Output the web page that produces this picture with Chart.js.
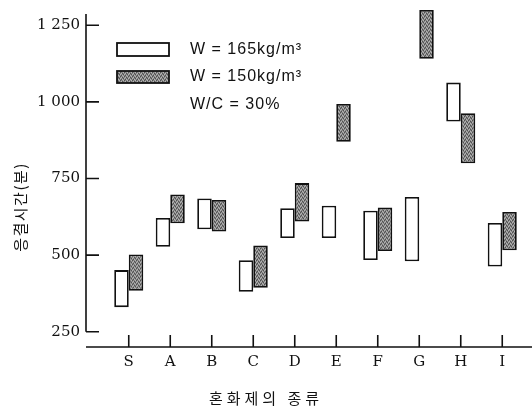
<!DOCTYPE html>
<html>
<head>
<meta charset="utf-8">
<script src="https://cdn.jsdelivr.net/npm/chart.js@4.4.0/dist/chart.umd.min.js"></script>
<style>
html, body { margin: 0; padding: 0; background: #fff; }
#chart { display: block; }
</style>
</head>
<body>
<canvas id="chart" width="532" height="406"></canvas>
<script>
// 혼화제 종류별 응결시간(분): 막대 하나 = [하한, 상한]
const categories = ['S', 'A', 'B', 'C', 'D', 'E', 'F', 'G', 'H', 'I'];
const w165Low  = [330, 527, 584, 380, 556, 556, 484, 480, 936, 463];
const w165High = [451, 621, 685, 483, 653, 661, 645, 690, 1063, 605];
const w150Low  = [384, 604, 577, 393, 610, 870, 513, 1141, 800, 516];
const w150High = [502, 698, 680, 531, 735, 993, 655, 1300, 963, 641];
const yTicks = [250, 500, 750, 1000, 1250];
const yTickLabels = ['250', '500', '750', '1 000', '1 250'];
const legendLabels = ['W = 165kg/m³', 'W = 150kg/m³'];
const noteLabel = 'W/C = 30%';
const xTitle = '혼화제의 종류';
const yTitle = '응결시간(분)';

function makeSpeckle() {
    const c = document.createElement('canvas');
    c.width = 4;
    c.height = 4;
    const g = c.getContext('2d');
    g.fillStyle = '#858585';
    g.fillRect(0, 0, 4, 4);
    g.fillStyle = '#505050';
    [[0, 0], [2, 1], [1, 3], [3, 2]].forEach(p => g.fillRect(p[0], p[1], 1, 1));
    g.fillStyle = '#b5b5b5';
    [[1, 1], [3, 0], [0, 2], [2, 3]].forEach(p => g.fillRect(p[0], p[1], 1, 1));
    return g.createPattern(c, 'repeat');
}

const grayFill = makeSpeckle();

const paperAxes = {
    id: 'paperAxes',
    afterDraw(chart) {
        const { ctx, chartArea, scales } = chart;
        const x = scales.x;
        const y = scales.y;
        const axisX = chartArea.left - 22;
        const axisY = chartArea.bottom;

        ctx.save();
        ctx.strokeStyle = '#111';
        ctx.lineWidth = 1.6;
        ctx.beginPath();
        ctx.moveTo(axisX, 14);
        ctx.lineTo(axisX, y.getPixelForValue(250));
        yTicks.forEach(v => {
            const py = y.getPixelForValue(v);
            ctx.moveTo(axisX, py);
            ctx.lineTo(axisX + 13, py);
        });
        ctx.moveTo(axisX, axisY);
        ctx.lineTo(chart.width, axisY);
        categories.forEach((c, i) => {
            const px = x.getPixelForValue(i);
            ctx.moveTo(px, axisY);
            ctx.lineTo(px, axisY - 12);
        });
        ctx.stroke();

        // legend
        ctx.lineWidth = 1.8;
        ctx.fillStyle = '#fff';
        ctx.fillRect(117, 43, 52, 13);
        ctx.strokeRect(117, 43, 52, 13);
        ctx.fillStyle = grayFill;
        ctx.fillRect(117, 71, 52, 12);
        ctx.strokeRect(117, 71, 52, 12);

        ctx.fillStyle = '#111';
        ctx.font = '16px "Liberation Sans"';
        ctx.textBaseline = 'middle';
        ctx.textAlign = 'left';
        ctx.letterSpacing = '1px';
        ctx.fillText(legendLabels[0], 190, 50);
        ctx.fillText(legendLabels[1], 190, 77);
        ctx.fillText(noteLabel, 190, 105);

        // axis titles
        ctx.font = '15px "Noto Sans CJK KR"';
        ctx.textAlign = 'center';
        ctx.letterSpacing = '4px';
        ctx.fillText(xTitle, 266, 398);
        ctx.letterSpacing = '1.5px';
        ctx.translate(20, 207);
        ctx.rotate(-Math.PI / 2);
        ctx.fillText(yTitle, 0, 0);
        ctx.restore();
    }
};

new Chart(document.getElementById('chart'), {
    type: 'bar',
    data: {
        labels: categories,
        datasets: [{
            label: legendLabels[0],
            data: categories.map((c, i) => [w165Low[i], w165High[i]]),
            backgroundColor: '#fff',
            borderColor: '#111',
            borderWidth: 1.8,
            borderSkipped: false
        }, {
            label: legendLabels[1],
            data: categories.map((c, i) => [w150Low[i], w150High[i]]),
            backgroundColor: grayFill,
            borderColor: '#111',
            borderWidth: 1.8,
            borderSkipped: false
        }]
    },
    options: {
        responsive: false,
        animation: false,
        categoryPercentage: 0.7,
        barPercentage: 1,
        layout: { padding: { top: 10, right: 9, bottom: 0, left: 0 } },
        plugins: {
            legend: { display: false },
            tooltip: { enabled: false }
        },
        scales: {
            x: {
                grid: { display: false, drawTicks: false },
                border: { display: false },
                ticks: {
                    color: '#111',
                    font: { family: 'DejaVu Serif', size: 15 },
                    padding: 6,
                    maxRotation: 0
                },
                afterFit: s => {
                    s.height = 59;
                    s.paddingLeft = 0;
                    s.paddingRight = 0;
                }
            },
            y: {
                min: 200,
                max: 1300,
                grid: { display: false, drawTicks: false },
                border: { display: false },
                afterBuildTicks: s => { s.ticks = yTicks.map(v => ({ value: v })); },
                ticks: {
                    color: '#111',
                    font: { family: 'DejaVu Serif', size: 15 },
                    padding: 28,
                    callback: (v, i) => yTickLabels[i]
                },
                afterFit: s => {
                    s.width = 108;
                    s.paddingTop = 0;
                    s.paddingBottom = 0;
                }
            }
        }
    },
    plugins: [paperAxes]
});
</script>
</body>
</html>
